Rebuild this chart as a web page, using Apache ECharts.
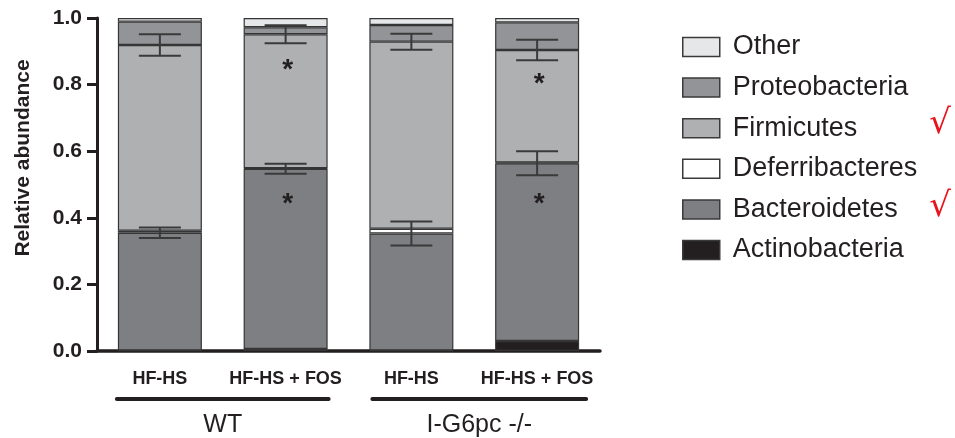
<!DOCTYPE html>
<html>
<head>
<meta charset="utf-8">
<script src="https://cdn.jsdelivr.net/npm/echarts@6/dist/echarts.min.js"></script>
<style>html,body{margin:0;padding:0;background:#fff;}#chart{width:955px;height:438px;}</style>
</head>
<body>
<div id="chart"></div>
<script>
// stacked relative abundance per group, bottom to top
var categories = ['HF-HS', 'HF-HS + FOS', 'HF-HS', 'HF-HS + FOS'];
var groups = ['WT', 'I-G6pc -/-'];
var yTicks = ['0.0', '0.2', '0.4', '0.6', '0.8', '1.0'];

var actino = [0.002, 0.006, 0.002, 0.030];
var bacter = [0.353, 0.541, 0.351, 0.534];
var deferr = [0.006, 0.002, 0.014, 0.002];
var firmic = [0.558, 0.402, 0.562, 0.338];
var proteo = [0.070, 0.021, 0.050, 0.083];
var other  = [0.011, 0.028, 0.021, 0.013];

var bacterErr = [0.016, 0.015, 0.036, 0.036];
var firmicErr = [0.032, 0.027, 0.024, 0.031];

// asterisk positions (value) inside bars, null = none
var starFirm = [null, 0.86, null, 0.82];
var starBact = [null, 0.46, null, 0.46];

var legendOrder = ['Other', 'Proteobacteria', 'Firmicutes', 'Deferribacteres', 'Bacteroidetes', 'Actinobacteria'];

var FONT = '"Liberation Sans", Arial, sans-serif';
var INK = '#231f20';

function barSeries(name, data, color){
  return {
    name: name, type: 'bar', stack: 'tot', data: data,
    barWidth: 84,
    itemStyle: {color: color, borderColor: '#353535', borderWidth: 1.2},
    emphasis: {disabled: true}
  };
}

// error bar centre = cumulative top of the segment
var bactTop = actino.map(function(v, i){ return v + bacter[i]; });
var firmTop = bactTop.map(function(v, i){ return v + deferr[i] + firmic[i]; });
var errData = [];
bactTop.forEach(function(v, i){ errData.push([i, v, bacterErr[i]]); });
firmTop.forEach(function(v, i){ errData.push([i, v, firmicErr[i]]); });

var starData = [];
starFirm.forEach(function(v, i){ if(v != null) starData.push([i, v]); });
starBact.forEach(function(v, i){ if(v != null) starData.push([i, v]); });

var chart = echarts.init(document.getElementById('chart'));
chart.setOption({
  animation: false,
  grid: {left: 97, right: 355, top: 18, bottom: 87},
  xAxis: {
    type: 'category', data: categories,
    axisLine: {lineStyle: {color: INK, width: 3.5}},
    axisTick: {alignWithLabel: true, length: 13, lineStyle: {color: INK, width: 3}},
    axisLabel: {color: INK, fontFamily: FONT, fontWeight: 'bold', fontSize: 18, margin: 19, interval: 0}
  },
  yAxis: {
    type: 'value', min: 0, max: 1, interval: 0.2,
    axisLine: {show: true, lineStyle: {color: INK, width: 3}},
    axisTick: {show: true, length: 10, lineStyle: {color: INK, width: 3}},
    splitLine: {show: false},
    axisLabel: {color: INK, fontFamily: FONT, fontWeight: 'bold', fontSize: 21, margin: 15,
      formatter: function(v){ return yTicks[Math.round(v / 0.2)]; }}
  },
  legend: {
    data: legendOrder, orient: 'vertical', left: 677, top: 28.5,
    itemWidth: 37, itemHeight: 19, itemGap: 13.6, icon: 'rect',
    itemStyle: {borderColor: '#3a3a3a', borderWidth: 1.5},
    textStyle: {color: INK, fontFamily: FONT, fontSize: 27, padding: [0, 0, 0, 8]},
    selectedMode: false
  },
  series: [
    barSeries('Actinobacteria', actino, '#231f20'),
    barSeries('Bacteroidetes', bacter, '#7e7f82'),
    barSeries('Deferribacteres', deferr, '#ffffff'),
    barSeries('Firmicutes', firmic, '#afb0b2'),
    barSeries('Proteobacteria', proteo, '#939497'),
    barSeries('Other', other, '#e6e7e8'),
    {
      type: 'custom', name: 'err', data: errData, z: 10, silent: true,
      renderItem: function(params, api){
        var x = api.value(0), y = api.value(1), e = api.value(2);
        var hi = api.coord([x, y + e]), lo = api.coord([x, y - e]);
        var hw = 21;
        var st = {stroke: '#3a3a3a', lineWidth: 2};
        return {type: 'group', children: [
          {type: 'line', shape: {x1: hi[0], y1: hi[1], x2: lo[0], y2: lo[1]}, style: st},
          {type: 'line', shape: {x1: hi[0] - hw, y1: hi[1], x2: hi[0] + hw, y2: hi[1]}, style: st},
          {type: 'line', shape: {x1: lo[0] - hw, y1: lo[1], x2: lo[0] + hw, y2: lo[1]}, style: st}
        ]};
      }
    },
    {
      type: 'custom', name: 'stars', data: starData, z: 11, silent: true,
      renderItem: function(params, api){
        var p = api.coord([api.value(0), api.value(1)]);
        return {type: 'text', x: p[0] + 2, y: p[1] + 6,
          style: {text: '*', fill: INK, font: 'bold 28px ' + FONT, align: 'center', verticalAlign: 'middle'}};
      }
    }
  ]
});

// y-axis name, group underlines and labels, check marks
var p0 = chart.convertToPixel({xAxisIndex: 0}, 0);
var p1 = chart.convertToPixel({xAxisIndex: 0}, 1);
var p2 = chart.convertToPixel({xAxisIndex: 0}, 2);
var p3 = chart.convertToPixel({xAxisIndex: 0}, 3);
var lineY = 399, half = 43;
var gfx = [
  {type: 'text', x: 23, y: 158, rotation: Math.PI / 2,
    style: {text: 'Relative abundance', fill: INK, font: 'bold 21px ' + FONT, align: 'center', verticalAlign: 'middle'}},
  {type: 'line', shape: {x1: p0 - half, y1: lineY, x2: p1 + half, y2: lineY}, style: {stroke: INK, lineWidth: 4, lineCap: 'round'}},
  {type: 'line', shape: {x1: p2 - half + 4, y1: lineY, x2: p3 + half + 6, y2: lineY}, style: {stroke: INK, lineWidth: 4, lineCap: 'round'}},
  {type: 'text', x: (p0 + p1) / 2, y: 425, style: {text: groups[0], fill: INK, font: '25px ' + FONT, align: 'center', verticalAlign: 'middle'}},
  {type: 'text', x: (p2 + p3) / 2 + 5, y: 425, style: {text: groups[1], fill: INK, font: '25px ' + FONT, align: 'center', verticalAlign: 'middle'}},
  {type: 'text', x: 940, y: 124, style: {text: '\u221A', fill: '#e8141d', font: '34px "DejaVu Sans"', align: 'center', verticalAlign: 'middle'}},
  {type: 'text', x: 940, y: 207, style: {text: '\u221A', fill: '#e8141d', font: '34px "DejaVu Sans"', align: 'center', verticalAlign: 'middle'}}
];
chart.setOption({graphic: gfx}, {replaceMerge: ['graphic']});
</script>
</body>
</html>
